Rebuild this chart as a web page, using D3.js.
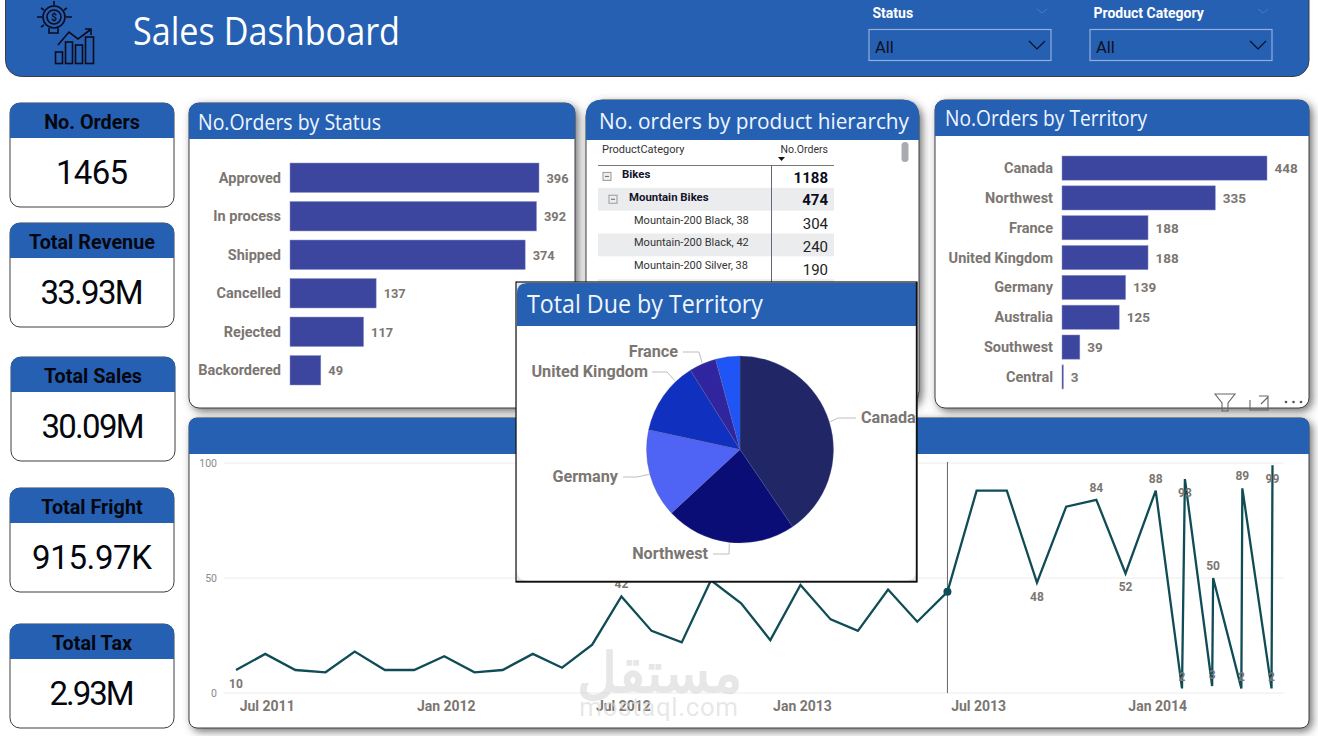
<!DOCTYPE html>
<html><head><meta charset="utf-8">
<script src="https://cdn.jsdelivr.net/npm/d3@7/dist/d3.min.js"></script>
<style>
html,body{margin:0;padding:0;background:#fff;overflow:hidden}
svg{display:block}
text{font-family:Roboto,sans-serif}
.ttl{font-family:"Open Sans",sans-serif;fill:#eef6ff}
</style></head><body>
<svg id="c" width="1318" height="736"></svg>
<script>
const kpiTitles=["No. Orders","Total Revenue","Total Sales","Total Fright","Total Tax"];
const kpiValues=["1465","33.93M","30.09M","915.97K","2.93M"];
const statusNames=["Approved","In process","Shipped","Cancelled","Rejected","Backordered"];
const statusOrders=[396,392,374,137,117,49];
const territoryNames=["Canada","Northwest","France","United Kingdom","Germany","Australia","Southwest","Central"];
const territoryOrders=[448,335,188,188,139,125,39,3];
const pieNames=["Canada","Northwest","Germany","United Kingdom","France","Australia"];
const pieValues=[13.74,7.67,5.19,4.31,1.59,1.43];
const pieColors=["#212667","#0B0D76","#4F63F5","#1030C0","#30259E","#1F55F5"];
const tableLabels=["Bikes","Mountain Bikes","Mountain-200 Black, 38","Mountain-200 Black, 42","Mountain-200 Silver, 38"];
const tableValues=[1188,474,304,240,190];
const lineDates=["2011-06-01","2011-07-01","2011-08-01","2011-09-01","2011-10-01","2011-11-01","2011-12-01","2012-01-01","2012-02-01","2012-03-01","2012-04-01","2012-05-01","2012-06-01","2012-07-01","2012-08-01","2012-09-01","2012-10-01","2012-11-01","2012-12-01","2013-01-01","2013-02-01","2013-03-01","2013-04-01","2013-05-01","2013-06-01","2013-07-01","2013-08-01","2013-09-01","2013-10-01","2013-11-01","2013-12-01","2014-01-01","2014-01-28","2014-01-31","2014-02-28","2014-03-01","2014-03-30","2014-03-31","2014-04-30","2014-05-01"];
const lineValues=[10,17,10,9,18,10,10,16,9,10,17,11,21,42,27,22,49,39,23,47,32,27,45,31,44,88,88,48,81,84,52,88,2,93,3,50,2,89,2,99];
const labelledPoints=[0,13,27,29,30,31,32,33,34,35,36,37,38,39];
const xTickDates=["2011-07-01","2012-01-01","2012-07-01","2013-01-01","2013-07-01","2014-01-01"];
const yTicks=[0,50,100];

const BLUE="#2660B2",BAR="#3C469E",GREY="#7b7672",EDGE="#3a3f47";
const svg=d3.select("#c");
const defs=svg.append("defs");
const f=defs.append("filter").attr("id","sh").attr("x","-10%").attr("y","-10%").attr("width","120%").attr("height","120%");
f.append("feDropShadow").attr("dx",3).attr("dy",3).attr("stdDeviation",4).attr("flood-color","#444").attr("flood-opacity",.75);

function topRound(x,y,w,h,r){return `M${x},${y+h}V${y+r}Q${x},${y} ${x+r},${y}H${x+w-r}Q${x+w},${y} ${x+w},${y+r}V${y+h}Z`;}
function panel(x,y,w,h,hh,r,shadow){
  const g=svg.append("g");
  g.append("rect").attr("x",x).attr("y",y).attr("width",w).attr("height",h).attr("rx",r)
    .attr("fill","#fff").attr("stroke",EDGE).attr("stroke-width",1).attr("filter",shadow?"url(#sh)":null);
  g.append("path").attr("d",topRound(x,y,w,hh,r)).attr("fill",BLUE);
  return g;
}

/* ---- header ---- */
svg.append("rect").attr("x",5.5).attr("y",-20).attr("width",1303.5).attr("height",96.5).attr("rx",16)
  .attr("fill",BLUE).attr("stroke",EDGE);
svg.append("text").attr("class","ttl").attr("x",133).attr("y",45).attr("font-size",38)
  .attr("textLength",267).attr("lengthAdjust","spacingAndGlyphs").style("fill","#fff").text("Sales Dashboard");
// icon
const ic=svg.append("g").attr("fill","none").attr("stroke","#0b0b20").attr("stroke-width",1.6);
ic.append("circle").attr("cx",54).attr("cy",17).attr("r",11);
ic.append("circle").attr("cx",54).attr("cy",17).attr("r",7);
ic.append("path").attr("d","M49,28V33H58V28");
ic.append("path").attr("d","M37,17H42M66,17H72M41,8L44,10M67,8L64,10M54,1V5M41,27L44,25");
[[55.5,52,7],[65.5,42,7],[75.5,45,7],[85.5,37,8]].forEach(b=>ic.append("rect").attr("x",b[0]).attr("y",b[1]).attr("width",b[2]).attr("height",63.5-b[1]));
ic.append("path").attr("d","M58,45L69,32L78,39L90,30M85,29H91V35");
svg.append("text").attr("x",54).attr("y",21).attr("text-anchor","middle").attr("font-size",10).attr("font-weight",700).attr("fill","#0b0b20").text("$");

/* ---- slicers ---- */
[["Status",869],["Product Category",1090]].forEach(([t,x])=>{
  svg.append("text").attr("x",x+3.5).attr("y",18).attr("font-size",14).attr("font-weight",700).attr("fill","#fff").text(t);
  svg.append("rect").attr("x",x).attr("y",29.5).attr("width",182).attr("height",31).attr("fill","none").attr("stroke","#93aedb").attr("stroke-width",1.2);
  svg.append("text").attr("x",x+6).attr("y",53).attr("font-size",16.5).attr("font-family","Open Sans").attr("fill","#0b1020").text("All");
  svg.append("path").attr("d",`M${x+160},41l8,8l8,-8`).attr("fill","none").attr("stroke","#0b1020").attr("stroke-width",1.2);
  svg.append("path").attr("d",`M${x+168},9l5,4l5,-4`).attr("fill","none").attr("stroke","#4f79bb").attr("stroke-width",1);
});

/* ---- KPI cards ---- */
const kpiLayout=[[10,103,72],[10,223,103],[11,357,103],[10,488,120],[10,624,85]];
kpiTitles.forEach((t,i)=>{
  const [x,y,tw]=kpiLayout[i];
  svg.append("rect").attr("x",x).attr("y",y).attr("width",164).attr("height",104).attr("rx",10).attr("fill","#fff").attr("stroke",EDGE);
  svg.append("path").attr("d",topRound(x,y,164,35,10)).attr("fill",BLUE);
  svg.append("text").attr("x",x+82).attr("y",y+25.5).attr("text-anchor","middle").attr("font-size",19.8).attr("font-weight",700).attr("fill","#05070f").text(t);
  svg.append("text").attr("x",x+82).attr("y",y+81).attr("text-anchor","middle").attr("font-size",33).attr("textLength",tw).attr("lengthAdjust","spacing").attr("fill","#05070f").text(kpiValues[i]);
});

/* ---- bar panels ---- */
function barPanel(names,vals,o){
  const x=d3.scaleLinear().domain([0,d3.max(vals)]).range([o.x0,o.x1]);
  const y=d3.scaleBand().domain(names).range([o.y0,o.y1]).paddingInner(o.pad).paddingOuter(0);
  const g=svg.append("g");
  g.selectAll("rect").data(vals).join("rect").attr("x",o.x0).attr("y",(d,i)=>y(names[i]))
    .attr("width",d=>Math.max(1,x(d)-o.x0)).attr("height",y.bandwidth()).attr("fill",BAR).attr("stroke","#8a90c8").attr("stroke-width",.5);
  g.selectAll(".n").data(names).join("text").attr("x",o.x0-9).attr("y",d=>y(d)+y.bandwidth()/2+5)
    .attr("text-anchor","end").attr("font-size",14.5).attr("font-weight",700).attr("fill",GREY).text(d=>d);
  g.selectAll(".v").data(vals).join("text").attr("x",d=>x(d)+7.5).attr("y",(d,i)=>y(names[i])+y.bandwidth()/2+5)
    .attr("font-size",o.vf).attr("font-weight",700).attr("fill",GREY).text(d=>d);
}
panel(189,103,386,305,36,10,true);
svg.append("text").attr("class","ttl").attr("x",198).attr("y",130).attr("font-size",21).attr("textLength",183).attr("lengthAdjust","spacingAndGlyphs").text("No.Orders by Status");
barPanel(statusNames,statusOrders,{x0:290,x1:539,y0:163,y1:385,pad:.235,vf:12.8});

panel(586,100,333,307,40,16,true);
svg.append("text").attr("class","ttl").attr("x",599).attr("y",129).attr("font-size",22).attr("textLength",310).attr("lengthAdjust","spacingAndGlyphs").text("No. orders by product hierarchy");

panel(935,100,374,308,36,10,true);
svg.append("text").attr("class","ttl").attr("x",945).attr("y",126).attr("font-size",21).attr("textLength",202).attr("lengthAdjust","spacingAndGlyphs").text("No.Orders by Territory");
barPanel(territoryNames,territoryOrders,{x0:1062,x1:1267,y0:156,y1:389,pad:.19,vf:13.5});

/* ---- table ---- */
const tbl=svg.append("g");
const rowY=d3.scaleBand().domain(d3.range(6)).range([165,302]);
tbl.selectAll(".s").data([1,3,5]).join("rect").attr("x",598).attr("width",236).attr("y",d=>rowY(d)).attr("height",rowY.bandwidth()).attr("fill","#ebecee");
tbl.append("text").attr("x",602).attr("y",153).attr("font-size",11).attr("font-family","Open Sans").attr("fill","#333").text("ProductCategory");
tbl.append("text").attr("x",828).attr("y",153).attr("text-anchor","end").attr("font-size",10.5).attr("font-family","Open Sans").attr("fill","#333").text("No.Orders");
tbl.append("path").attr("d","M778,157h7l-3.5,4z").attr("fill","#111");
tbl.append("line").attr("x1",598).attr("x2",834).attr("y1",165.5).attr("y2",165.5).attr("stroke","#777");
tbl.append("line").attr("x1",771.5).attr("x2",771.5).attr("y1",165).attr("y2",290).attr("stroke","#667");
tableLabels.forEach((t,i)=>{
  const y=rowY(i)+rowY.bandwidth()/2, bold=i<2;
  const tx=i===0?622:i===1?629:634;
  tbl.append("text").attr("x",tx).attr("y",bold?y+2:y+1.5).attr("font-size",bold?11.4:11).attr("font-weight",bold?700:400)
    .attr("font-family",bold?"Roboto":"Open Sans").attr("fill",bold?"#14142a":"#333").text(t);
  tbl.append("text").attr("x",828).attr("y",y+(i===1?6:7)).attr("text-anchor","end").attr("font-size",15).attr("font-weight",bold?700:400)
    .attr("font-family","Liberation Sans").attr("fill",bold?"#0c0c1c":"#222").text(tableValues[i]);
  if(bold){
    const bx=i===0?603:609;
    tbl.append("rect").attr("x",bx).attr("y",y-4).attr("width",8).attr("height",8).attr("fill","#eee").attr("stroke","#999");
    tbl.append("line").attr("x1",bx+2).attr("x2",bx+6).attr("y1",y).attr("y2",y).attr("stroke","#666");
  }
});
svg.append("rect").attr("x",901.5).attr("y",142).attr("width",7).attr("height",20).attr("rx",3.5).attr("fill","#a9abae");

/* ---- visual header icons ---- */
const vh=svg.append("g").attr("fill","none").attr("stroke","#666").attr("stroke-width",1.1);
vh.append("path").attr("d","M1215,394H1235L1228,403V411H1222V403Z");
vh.append("path").attr("d","M1250,400V410H1268V396H1259M1261,404L1268,397M1263,396H1268V401");
svg.selectAll(".dot").data([0,1,2]).join("circle").attr("cx",d=>1286+d*7.5).attr("cy",402).attr("r",1.3).attr("fill","#555");

/* ---- line chart panel ---- */
panel(189,418,1120,310,36,8,true);
const parse=d3.utcParse("%Y-%m-%d");
const lx=d3.scaleUtc().domain([parse("2011-06-01"),parse("2014-05-01")]).range([236,1272.5]);
const ly=d3.scaleLinear().domain([0,100]).range([693,463]);
const lg=svg.append("g");
lg.selectAll(".g").data(yTicks).join("line").attr("x1",224).attr("x2",1284).attr("y1",d=>ly(d)).attr("y2",d=>ly(d)).attr("stroke","#ececec");
lg.selectAll(".yt").data(yTicks).join("text").attr("x",217).attr("y",d=>ly(d)+3.5).attr("text-anchor","end").attr("font-size",10.5).attr("fill","#8a8a8a").text(d=>d);
lg.selectAll(".xt").data(xTickDates).join("text").attr("x",d=>lx(parse(d))+2).attr("y",710.5).attr("text-anchor","middle")
  .attr("font-size",14).attr("font-weight",700).attr("fill",GREY).text(d=>d3.utcFormat("%b %Y")(parse(d)));
const hi=24;
lg.append("line").attr("x1",lx(parse(lineDates[hi]))).attr("x2",lx(parse(lineDates[hi]))).attr("y1",462).attr("y2",693).attr("stroke","#666");
const lineGen=d3.line().x(d=>lx(parse(d[0]))).y(d=>ly(d[1]));
lg.append("path").datum(lineDates.map((d,i)=>[d,lineValues[i]])).attr("d",lineGen).attr("fill","none").attr("stroke","#0F4C55").attr("stroke-width",2.3).attr("stroke-linejoin","miter");
lg.append("circle").attr("cx",lx(parse(lineDates[hi]))).attr("cy",ly(lineValues[hi])).attr("r",4).attr("fill","#0F4C55");
const below=new Set([0,27,30]);
const inside=new Set([32,34,36,38]);
lg.selectAll(".pl").data(labelledPoints).join("text")
  .attr("x",i=>lx(parse(lineDates[i])))
  .attr("y",i=>{
    const y=ly(lineValues[i]);
    if(inside.has(i)) return y-7;
    if(i===33||i===39) return y+18;
    if(below.has(i)) return y+18;
    return y-8;
  })
  .attr("text-anchor","middle").attr("font-size",12).attr("font-weight",700).attr("fill",GREY).text(i=>lineValues[i]);

/* ---- watermark ---- */
const wm=svg.append("g").attr("fill","#d9d9d9").attr("opacity",.62).attr("text-anchor","middle");
wm.append("text").attr("x",659).attr("y",692).attr("font-size",55).attr("font-weight",700).attr("font-family","DejaVu Sans").text("مستقل");
wm.append("text").attr("x",659).attr("y",716).attr("font-size",26).attr("font-weight",400).attr("letter-spacing",.6).text("mostaql.com");

/* ---- pie panel ---- */
svg.append("rect").attr("x",516).attr("y",282).attr("width",401).attr("height",300).attr("fill","#e8e8e8").attr("stroke","#111").attr("stroke-width",1.2);
svg.append("rect").attr("x",517).attr("y",283).attr("width",399).attr("height",298).attr("rx",10).attr("fill","#fff");
svg.append("path").attr("d","M517,326V293Q517,283 527,283H916V326Z").attr("fill",BLUE);
svg.append("line").attr("x1",916.5).attr("x2",916.5).attr("y1",282).attr("y2",582).attr("stroke","#111").attr("stroke-width",1.4);
svg.append("line").attr("x1",516).attr("x2",917).attr("y1",581.5).attr("y2",581.5).attr("stroke","#111").attr("stroke-width",1.6);
svg.append("text").attr("class","ttl").attr("x",527).attr("y",313).attr("font-size",25).attr("textLength",236).attr("lengthAdjust","spacingAndGlyphs").text("Total Due by Territory");
const cx=740,cy=449.5,R=93.5;
const pie=d3.pie().sort(null).value(d=>d);
const arcs=pie(pieValues);
const arc=d3.arc().innerRadius(0).outerRadius(R);
const pg=svg.append("g").attr("transform",`translate(${cx},${cy})`);
pg.selectAll("path").data(arcs).join("path").attr("d",arc).attr("fill",(d,i)=>pieColors[i]).attr("stroke","#5a6090").attr("stroke-width",.3);
const pieLabelLayout={
  "Canada":{x:861,y:423,anchor:"start",elbow:[[838,418],[856,418]],nudge:0},
  "Northwest":{x:708,y:558.5,anchor:"end",elbow:[[729,554],[713,554]],nudge:0},
  "Germany":{x:618,y:482,anchor:"end",elbow:[[637,477],[623,477]],nudge:0},
  "United Kingdom":{x:648,y:377,anchor:"end",elbow:[[667,372],[652,372]],nudge:.2},
  "France":{x:678,y:357,anchor:"end",elbow:[[699,352],[683,352]],nudge:0}
};
arcs.forEach((a,i)=>{
  const L=pieLabelLayout[pieNames[i]]; if(!L) return;
  const m=(a.startAngle+a.endAngle)/2+L.nudge;
  const sx=cx+Math.sin(m)*(R+1),sy=cy-Math.cos(m)*(R+1);
  svg.append("polyline").attr("points",[[sx,sy],...L.elbow].map(p=>p.join(",")).join(" ")).attr("fill","none").attr("stroke","#bdbdbd").attr("stroke-width",1);
  svg.append("text").attr("x",L.x).attr("y",L.y).attr("text-anchor",L.anchor).attr("font-size",16.2).attr("font-weight",700).attr("fill",GREY).text(pieNames[i]);
});
</script></body></html>
